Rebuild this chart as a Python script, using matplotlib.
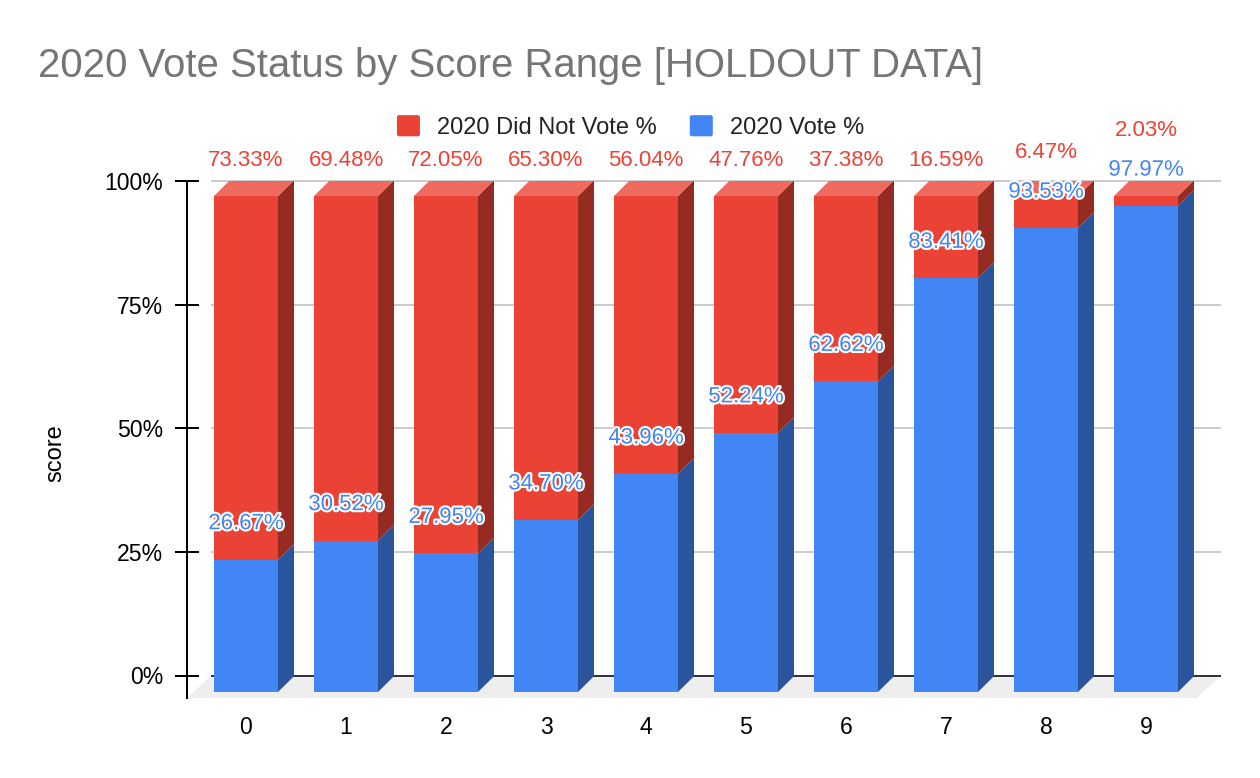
import matplotlib
matplotlib.use('Agg')
import matplotlib.pyplot as plt
import matplotlib.patheffects as pe
from matplotlib.legend_handler import HandlerPatch
from matplotlib.patches import FancyBboxPatch, Patch, Polygon

plt.rcParams['font.family'] = ['Liberation Sans', 'DejaVu Sans']

# Data
categorias = [0, 1, 2, 3, 4, 5, 6, 7, 8, 9]
voto = [26.67, 30.52, 27.95, 34.70, 43.96, 52.24, 62.62, 83.41, 93.53, 97.97]
no_voto = [73.33, 69.48, 72.05, 65.30, 56.04, 47.76, 37.38, 16.59, 6.47, 2.03]
ticks_y = [0, 25, 50, 75, 100]
etiquetas_y = ['0%', '25%', '50%', '75%', '100%']

# Colours
ROJO, ROJO_LADO, ROJO_TOPE = '#ea4335', '#962b22', '#ee695e'
AZUL, AZUL_LADO = '#4285f4', '#2a559c'

# Label lift of the red values, in pixels above the 100% line
subida_rojo = [20, 20, 20, 20, 20, 20, 20, 20, 28, 50]
SUBIDA_AZUL = 36

W, H = 1260, 778
PX = 72 / 100  # points per pixel at dpi 100
fig = plt.figure(figsize=(W / 100, H / 100), dpi=100)

# Axes box in pixels
izq, der, arriba, abajo = 187, 1221, 181, 698
ax = fig.add_axes([izq / W, 1 - abajo / H, (der - izq) / W, (abajo - arriba) / H])
escala_y = 4.945  # pixels per percent
ax.set_xlim((izq - 246) / 100, (der - 246) / 100)
ax.set_ylim(-(abajo - 675.5) / escala_y, 100)

ANCHO = 0.32   # half width of the front face
DX = 0.16      # depth in x
DY = 3.2       # depth in y
BASE = -3.34
FACTOR = 1.003


def frente(v):
    return BASE + v * FACTOR


# Floor
x0, x1 = ax.get_xlim()
y0 = ax.get_ylim()[0]
ax.add_patch(Polygon([(x0, y0), (-0.35, 0), (x1, 0), (x1 - 0.24, y0)],
                     closed=True, fc='#eeeeee', ec='none', zorder=1))

# Gridlines
for t in ticks_y:
    color = '#333333' if t == 0 else '#cccccc'
    ax.plot([-0.35, x1], [t, t], color=color, lw=2 * PX, zorder=2, solid_capstyle='butt', clip_on=False)


def caja(x, v0, v1, cara, lado):
    a, b = frente(v0), frente(v1)
    ax.add_patch(Polygon([(x - ANCHO, a), (x + ANCHO, a), (x + ANCHO, b), (x - ANCHO, b)],
                         closed=True, fc=cara, ec='none', zorder=4))
    ax.add_patch(Polygon([(x + ANCHO, a), (x + ANCHO + DX, a + DY), (x + ANCHO + DX, b + DY), (x + ANCHO, b)],
                         closed=True, fc=lado, ec='none', zorder=3))


for x, v, n in zip(categorias, voto, no_voto):
    caja(x, 0, v, AZUL, AZUL_LADO)
    caja(x, v, v + n, ROJO, ROJO_LADO)
    tope = frente(v + n)
    ax.add_patch(Polygon([(x - ANCHO, tope), (x + ANCHO, tope), (x + ANCHO + DX, tope + DY), (x - ANCHO + DX, tope + DY)],
                         closed=True, fc=ROJO_TOPE, ec='none', zorder=4))

    ax.annotate(f'{v:.2f}%', (x, frente(v)), xytext=(0, SUBIDA_AZUL * PX), textcoords='offset points',
                ha='center', va='center', fontsize=16, color=AZUL, zorder=6, annotation_clip=False,
                path_effects=[pe.withStroke(linewidth=3, foreground='white')])

for x, n, s in zip(categorias, no_voto, subida_rojo):
    ax.annotate(f'{n:.2f}%', (x, 100), xytext=(0, s * PX), textcoords='offset points',
                ha='center', va='center', fontsize=16, color=ROJO, zorder=6, annotation_clip=False)

# Axes
for lado in ['top', 'right', 'bottom']:
    ax.spines[lado].set_visible(False)
ax.spines['left'].set_linewidth(2 * PX)
ax.spines['left'].set_color('black')
ax.set_yticks(ticks_y)
ax.set_yticklabels(etiquetas_y, fontsize=16.6, color='black')
ax.tick_params(axis='y', direction='inout', length=24 * PX, width=2 * PX, pad=8.5, color='black')
ax.set_xticks(categorias)
ax.set_xticklabels(categorias, fontsize=16.6, color='black')
ax.tick_params(axis='x', length=0, pad=13.3)
ax.patch.set_alpha(0)

fig.text(55 / W, 1 - 453 / H, 'score', rotation=90, ha='center', va='center', fontsize=17, color='black')
fig.text(38 / W, 1 - 66 / H, '2020 Vote Status by Score Range [HOLDOUT DATA]', ha='left', va='center',
         fontsize=28.9, color='#757575')


# Legend with rounded swatches
def muestra(legend, orig_handle, xdescent, ydescent, width, height, fontsize):
    return FancyBboxPatch((-xdescent, -ydescent), width, height,
                          boxstyle='round,pad=0,rounding_size=1.5', mutation_aspect=1)


manijas = [Patch(fc=ROJO, ec='none', label='2020 Did Not Vote %'),
           Patch(fc=AZUL, ec='none', label='2020 Vote %')]
fig.legend(handles=manijas, loc='center', bbox_to_anchor=(630.5 / W, 1 - 127 / H), ncol=2, frameon=False,
           fontsize=17, handlelength=0.975, handleheight=1.0, handletextpad=0.72, columnspacing=1.4,
           labelcolor='#222222', handler_map={Patch: HandlerPatch(patch_func=muestra)})

fig.savefig('out.png', dpi=100)
